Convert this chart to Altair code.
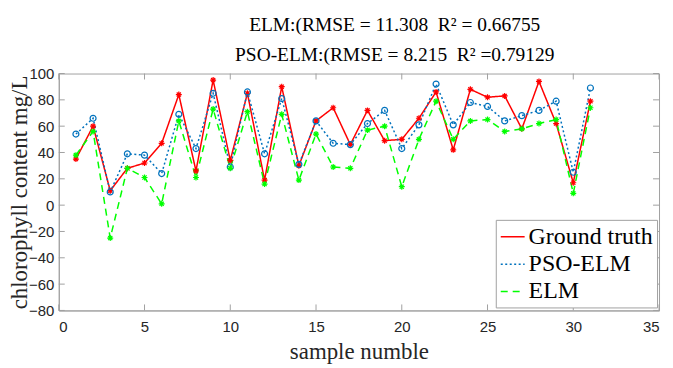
import altair as alt
import pandas as pd

sample = list(range(1, 32))
ground_truth = [35, 60, 11, 28, 32, 47, 84, 26, 95, 34, 85, 19, 90, 30, 64, 74, 46, 72, 49, 50,
                66, 86, 42, 88, 82, 83, 58, 94, 62, 17, 79]
pso_elm = [54, 66, 10, 39, 38, 24, 69, 43, 85, 29, 86, 39, 81, 31, 64, 47, 46, 62, 72, 43,
           61, 92, 61, 78, 75, 64, 68, 72, 79, 25, 89]
elm = [38, 56, -25, 28, 21, 1, 64, 21, 73, 28, 71, 16, 69, 19, 54, 29, 28, 57, 60, 14,
       50, 79, 50, 64, 65, 56, 58, 62, 65, 9, 74]
series_names = ["Ground truth", "PSO-ELM", "ELM"]
series_colors = ["#ff0000", "#0072bd", "#00ff00"]
x_ticks = [0, 5, 10, 15, 20, 25, 30, 35]
y_ticks = [-80, -60, -40, -20, 0, 20, 40, 60, 80, 100]
title_lines = ["ELM:(RMSE = 11.308 \u00a0R\u00b2 = 0.66755",
               "PSO-ELM:(RMSE = 8.215 \u00a0R\u00b2 =0.79129"]

rows = []
for name, vals in zip(series_names, [ground_truth, pso_elm, elm]):
    for s, v in zip(sample, vals):
        rows.append({"sample": s, "value": v, "series": name})
df = pd.DataFrame(rows)
xt = pd.DataFrame({"t": x_ticks})
yt = pd.DataFrame({"t": y_ticks})

W, H = 603, 238
AX = "#a0a0a0"
TL = 6
star = "M-1,0L1,0M0,-1L0,1M-0.7,-0.7L0.7,0.7M-0.7,0.7L0.7,-0.7"
markers = [star, "circle", star]

xs = alt.Scale(domain=[0, 35], nice=False, zero=False)
ys = alt.Scale(domain=[-80, 100], nice=False, zero=False)
col = alt.Scale(domain=series_names, range=series_colors)
dash = alt.Scale(domain=series_names, range=[[1, 0], [2, 2.5], [7, 5]])

x_axis = alt.Axis(values=x_ticks, title="sample numble", ticks=False, labelPadding=9,
                  titlePadding=6, labelOverlap=False)
y_axis = alt.Axis(values=y_ticks, title="chlorophyll content mg/L", ticks=False,
                  labelPadding=5, titlePadding=-3, labelOverlap=False)

leg = alt.Legend(orient="none", legendX=439, legendY=147, title=None, padding=4,
                 rowPadding=2.5, strokeColor=AX, fillColor="#ffffff", cornerRadius=0,
                 labelFont="Liberation Serif", labelFontSize=24, labelColor="#000000",
                 labelOffset=3, symbolType="stroke", symbolSize=576,
                 symbolStrokeWidth=1.5, labelLimit=300)

lines = alt.Chart(df).mark_line(strokeWidth=1.5).encode(
    x=alt.X("sample:Q", scale=xs, axis=x_axis),
    y=alt.Y("value:Q", scale=ys, axis=y_axis),
    color=alt.Color("series:N", scale=col, legend=leg),
    strokeDash=alt.StrokeDash("series:N", scale=dash, legend=leg),
    order=alt.Order("sample:Q"),
)

point_layers = []
for name, c, m in zip(series_names, series_colors, markers):
    point_layers.append(
        alt.Chart(df).transform_filter(alt.datum.series == name)
        .mark_point(filled=False, strokeWidth=1.2, size=36, opacity=1, color=c, shape=m)
        .encode(x=alt.X("sample:Q", scale=xs, axis=x_axis),
                y=alt.Y("value:Q", scale=ys, axis=y_axis))
    )

xb = alt.Chart(xt).mark_rule(color=AX, strokeWidth=1).encode(
    x=alt.X("t:Q", scale=xs, axis=x_axis), y=alt.value(H), y2=alt.value(H - TL))
xtop = alt.Chart(xt).mark_rule(color=AX, strokeWidth=1).encode(
    x=alt.X("t:Q", scale=xs, axis=x_axis), y=alt.value(0), y2=alt.value(TL))
yl = alt.Chart(yt).mark_rule(color=AX, strokeWidth=1).encode(
    y=alt.Y("t:Q", scale=ys, axis=y_axis), x=alt.value(0), x2=alt.value(TL))
yr = alt.Chart(yt).mark_rule(color=AX, strokeWidth=1).encode(
    y=alt.Y("t:Q", scale=ys, axis=y_axis), x=alt.value(W - TL), x2=alt.value(W))

chart = alt.layer(lines, *point_layers, xb, xtop, yl, yr).properties(
    width=W, height=H,
    autosize=alt.AutoSizeParams(type="none"),
    padding={"left": 51, "top": 65, "right": 6, "bottom": 57},
    title=alt.TitleParams(text=title_lines, font="Liberation Serif", fontSize=19.5,
                          fontWeight="normal", color="#000000", lineHeight=30,
                          anchor="middle", offset=5, dx=36, dy=4),
).configure_view(stroke=AX, strokeWidth=1).configure_axis(
    domainColor=AX, domainWidth=1, grid=False,
    labelFont="Liberation Sans", labelFontSize=15, labelColor="#262626",
    titleFont="Liberation Serif", titleFontSize=23, titleColor="#262626",
    titleFontWeight="normal",
).configure_legend(
    labelFont="Liberation Serif", labelFontSize=24, labelColor="#000000",
)

chart.save("out.html", embed_options={"renderer": "svg", "actions": False})
